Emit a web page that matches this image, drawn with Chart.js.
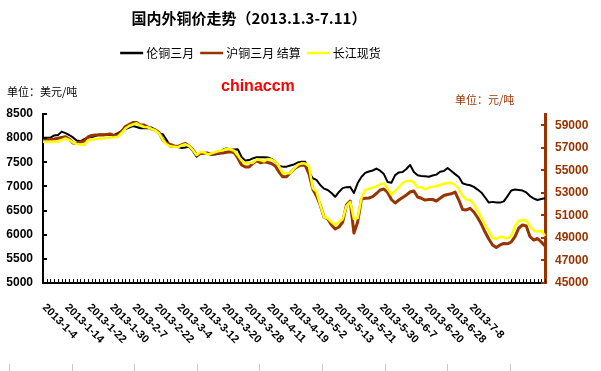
<!DOCTYPE html>
<html>
<head>
<meta charset="utf-8">
<script src="https://cdn.jsdelivr.net/npm/chart.js@4.4.1/dist/chart.umd.min.js"></script>
<style>
    html, body { margin: 0; padding: 0; background: #fff; }
    #wrap { width: 601px; height: 371px; }
</style>
</head>
<body>
<div id="wrap"><canvas id="chart" width="601" height="371"></canvas></div>
<script>
// labels shown under the axis, one every 6 trading days
const tickLabels = ['2013-1-4', '2013-1-14', '2013-1-22', '2013-1-30', '2013-2-7', '2013-2-22', '2013-3-4',
    '2013-3-12', '2013-3-20', '2013-3-28', '2013-4-11', '2013-4-19', '2013-5-2', '2013-5-13', '2013-5-21',
    '2013-5-30', '2013-6-7', '2013-6-20', '2013-6-28', '2013-7-8'];

// LME 3-month, USD/t (left axis)
const lmeThreeMonth = [8010, 8010, 8010, 8055, 8065, 8135, 8105, 8065, 8015, 7950,
    7935, 7980, 8015, 8025, 8045, 8075, 8075, 8065, 8065, 8065,
    8105, 8150, 8190, 8220, 8250, 8230, 8205, 8205, 8205, 8220,
    8170, 8095, 8080, 7960, 7825, 7825, 7815, 7795, 7805, 7825,
    7735, 7615, 7685, 7690, 7700, 7660, 7660, 7680, 7755, 7790,
    7755, 7765, 7770, 7610, 7535, 7545, 7580, 7605, 7605, 7605,
    7600, 7570, 7515, 7425, 7410, 7410, 7435, 7455, 7495, 7510,
    7510, 7300, 7170, 7135, 7030, 6955, 6925, 6865, 6785, 6885,
    6965, 6985, 6990, 6865, 7070, 7195, 7280, 7310, 7330, 7370,
    7325, 7255, 7090, 7075, 7235, 7290, 7300, 7360, 7445, 7300,
    7230, 7215, 7210, 7200, 7225, 7245, 7305, 7320, 7380, 7320,
    7255, 7195, 7065, 7040, 7025, 6990, 6935, 6875, 6775, 6665,
    6680, 6665, 6665, 6690, 6800, 6915, 6935, 6925, 6915, 6875,
    6800, 6750, 6720, 6740, 6755];

// SHFE 3-month settlement, CNY/t (right axis)
const shfeThreeMonth = [57750, 57750, 57750, 57780, 57845, 57915, 57985, 57780, 57425, 57380,
    57515, 57605, 57960, 58090, 58135, 58135, 58135, 58180, 58225, 58090,
    58135, 58445, 58890, 59070, 59245, 59245, 59025, 59025, 58845, 58685,
    58580, 58360, 57695, 57400, 57295, 57160, 57115, 57250, 57380, 57160,
    56850, 56360, 56495, 56510, 56510, 56405, 56510, 56510, 56540, 56600,
    56655, 56585, 56095, 55475, 55295, 55295, 55605, 55855, 55680, 55765,
    55695, 55605, 55385, 54850, 54435, 54435, 54765, 55120, 55340, 55475,
    55430, 54675, 53345, 52720, 51925, 50860, 50680, 50150, 49795, 49970,
    50415, 51925, 52280, 49440, 50415, 52455, 52520, 52545, 52660, 52945,
    53255, 53345, 53035, 52410, 52100, 52365, 52590, 52810, 53075, 53165,
    52635, 52520, 52365, 52410, 52410, 52280, 52520, 52765, 52855, 52915,
    53075, 52365, 51525, 51480, 51630, 51300, 50815, 50235, 49525, 48905,
    48375, 48150, 48375, 48505, 48480, 48640, 49110, 49880, 50150, 50060,
    49110, 48815, 48950, 48640, 48285];

// Changjiang spot, CNY/t (right axis)
const changjiangSpot = [57540, 57540, 57540, 57540, 57540, 57695, 57825, 57695, 57470, 57340,
    57295, 57250, 57650, 57735, 57755, 57800, 57845, 57870, 57915, 57930,
    57985, 58315, 58715, 58935, 59070, 59175, 58980, 58845, 58820, 58670,
    58535, 58270, 57695, 57295, 57135, 57100, 57055, 57205, 57310, 57160,
    56805, 56360, 56630, 56600, 56405, 56510, 56630, 56715, 56760, 56940,
    56850, 56745, 56315, 55875, 55625, 55650, 55680, 55960, 55920, 55800,
    56005, 55960, 55785, 55385, 54735, 54735, 54735, 55165, 55475, 55625,
    55605, 55340, 53430, 53105, 51925, 50860, 50745, 50415, 50150, 50415,
    50680, 51835, 52190, 50680, 50770, 52545, 53280, 53345, 53475, 53565,
    53760, 53830, 53390, 52855, 53165, 53520, 53875, 54055, 54080, 53920,
    53475, 53520, 53300, 53475, 53550, 53585, 53700, 53805, 53875, 53895,
    53700, 53345, 52720, 52410, 52365, 51970, 51390, 50860, 50150, 49615,
    49040, 48905, 49110, 49040, 48970, 49170, 50060, 50505, 50590, 50545,
    50060, 49660, 49570, 49660, 49170];

const leftTicks = [5000, 5500, 6000, 6500, 7000, 7500, 8000, 8500];
const rightTicks = [45000, 47000, 49000, 51000, 53000, 55000, 57000, 59000];

const LABEL_STEP = 6;
// one category per trading day; only every 6th one carries a date label
const categories = lmeThreeMonth.map((v, i) => {
    const lab = i % LABEL_STEP === 0 ? tickLabels[i / LABEL_STEP] : undefined;
    return lab || 'd' + i;
});

const BROWN = '#993300';
const CJK = '"Noto Sans CJK SC", sans-serif';

function line(ctx, x1, y1, x2, y2) {
    ctx.beginPath();
    ctx.moveTo(x1, y1);
    ctx.lineTo(x2, y2);
    ctx.stroke();
}

const decorations = {
    id: 'decorations',
    afterDraw(chart) {
        const ctx = chart.ctx;
        const area = chart.chartArea;
        const xs = chart.scales.x, yl = chart.scales.y, yr = chart.scales.y2;
        ctx.save();

        // inside tick marks
        ctx.lineWidth = 2;
        ctx.strokeStyle = '#000';
        leftTicks.forEach(v => {
            const py = Math.round(yl.getPixelForValue(v));
            line(ctx, area.left, py, area.left + 4, py);
        });
        ctx.lineWidth = 1;
        for (let i = 0; i < categories.length; i++) {
            const px = Math.round(xs.getPixelForValue(i)) + 0.5;
            line(ctx, px, area.bottom, px, area.bottom - 4);
        }
        ctx.lineWidth = 2;
        ctx.strokeStyle = BROWN;
        rightTicks.forEach(v => {
            const py = Math.round(yr.getPixelForValue(v));
            line(ctx, area.right - 4, py, area.right, py);
        });

        // rotated category labels
        ctx.fillStyle = '#000';
        ctx.font = 'bold 11px Arial, "Liberation Sans"';
        ctx.textAlign = 'left';
        ctx.textBaseline = 'top';
        tickLabels.forEach((lab, k) => {
            const px = xs.getPixelForValue(k * LABEL_STEP);
            ctx.save();
            ctx.translate(px + 5, area.bottom + 19);
            ctx.rotate(Math.PI / 4);
            ctx.fillText(lab, 0, 0);
            ctx.restore();
        });

        // title
        ctx.textAlign = 'center';
        ctx.textBaseline = 'middle';
        ctx.font = 'bold 15px ' + CJK;
        ctx.fillText('国内外铜价走势（2013.1.3-7.11）', 249, 18);

        // legend
        ctx.font = '12px ' + CJK;
        const items = chart.data.datasets.slice().sort((a, b) => a.legendIndex - b.legendIndex);
        const segLen = 23, gapText = 3, gapItem = 6;
        const widths = items.map(d => segLen + gapText + ctx.measureText(d.label).width);
        const total = widths.reduce((a, b) => a + b, 0) + gapItem * (items.length - 1);
        let lx = 250.5 - total / 2;
        const ly = 53;
        ctx.textAlign = 'left';
        items.forEach((d, k) => {
            ctx.strokeStyle = d.borderColor;
            ctx.lineWidth = 2.5;
            line(ctx, lx, ly, lx + segLen, ly);
            ctx.fillStyle = '#000';
            ctx.fillText(d.label, lx + segLen + gapText, ly);
            lx += widths[k] + gapItem;
        });

        // units and watermark
        ctx.font = '11px ' + CJK;
        ctx.fillStyle = '#000';
        ctx.fillText('单位：美元/吨', 7, 92);
        ctx.fillStyle = BROWN;
        ctx.fillText('单位：元/吨', 455, 100);
        ctx.fillStyle = '#ff0000';
        ctx.font = 'bold 16px Arial, "Liberation Sans"';
        ctx.fillText('chinaccm', 221, 87);

        // faint page separators at the very bottom
        ctx.strokeStyle = '#c8c8c8';
        ctx.lineWidth = 1;
        [9, 72, 134, 197, 259, 322, 385, 447, 510].forEach(px => line(ctx, px + 0.5, 364, px + 0.5, 371));

        ctx.restore();
    }
};

const plainNumber = v => String(v);

new Chart(document.getElementById('chart'), {
    type: 'line',
    data: {
        labels: categories,
        datasets: [{
            label: '伦铜三月',
            legendIndex: 0,
            data: lmeThreeMonth,
            yAxisID: 'y',
            borderColor: '#000000',
            borderWidth: 2,
            order: 3
        }, {
            label: '沪铜三月 结算',
            legendIndex: 1,
            data: shfeThreeMonth,
            yAxisID: 'y2',
            borderColor: BROWN,
            borderWidth: 3,
            order: 2
        }, {
            label: '长江现货',
            legendIndex: 2,
            data: changjiangSpot,
            yAxisID: 'y2',
            borderColor: '#ffff00',
            borderWidth: 2.5,
            order: 1
        }]
    },
    options: {
        responsive: false,
        animation: false,
        devicePixelRatio: 1,
        layout: { padding: { top: 114, left: 0, right: 0, bottom: 0 } },
        elements: {
            point: { radius: 0, hoverRadius: 0 },
            line: { tension: 0, fill: false, borderJoinStyle: 'round' }
        },
        plugins: {
            legend: { display: false },
            title: { display: false },
            tooltip: { enabled: false }
        },
        scales: {
            x: {
                type: 'category',
                offset: false,
                grid: { display: false, drawTicks: false },
                border: { display: true, color: '#000', width: 2 },
                ticks: { display: false, autoSkip: false },
                afterFit(scale) { scale.height = 88; }
            },
            y: {
                position: 'left',
                min: 5000,
                max: 8500,
                grid: { display: false, drawTicks: false },
                border: { display: true, color: '#000', width: 2 },
                ticks: {
                    padding: 10,
                    color: '#000',
                    callback: plainNumber,
                    font: { family: 'Arial, "Liberation Sans"', size: 12, weight: 'bold' }
                },
                afterBuildTicks(scale) { scale.ticks = leftTicks.map(v => ({ value: v })); },
                afterFit(scale) { scale.width = 43; }
            },
            y2: {
                position: 'right',
                min: 45000,
                max: 60000,
                grid: { display: false, drawTicks: false },
                border: { display: true, color: BROWN, width: 3 },
                ticks: {
                    padding: 10,
                    color: BROWN,
                    callback: plainNumber,
                    font: { family: 'Arial, "Liberation Sans"', size: 12, weight: 'bold' }
                },
                afterBuildTicks(scale) { scale.ticks = rightTicks.map(v => ({ value: v })); },
                afterFit(scale) { scale.width = 56; }
            }
        }
    },
    plugins: [decorations]
});
</script>
</body>
</html>
